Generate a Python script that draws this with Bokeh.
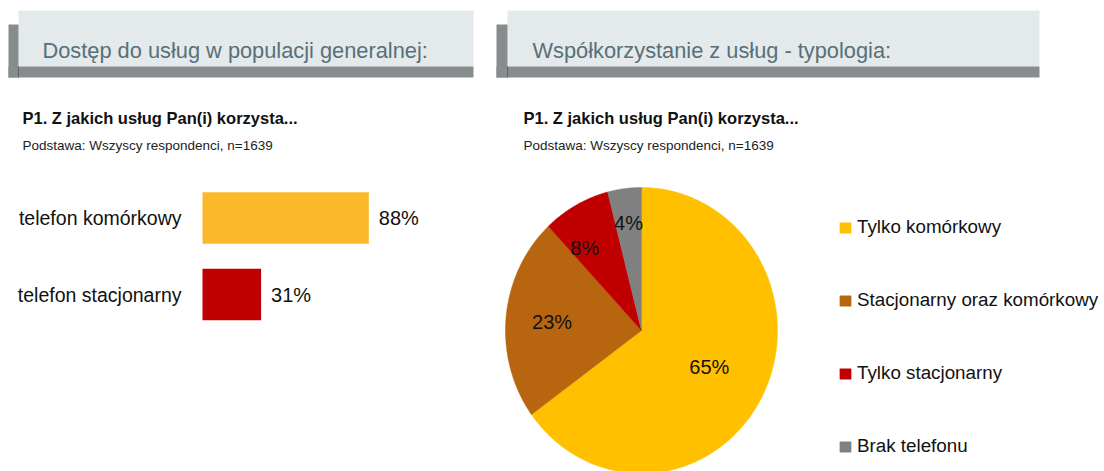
import numpy as np
from bokeh.plotting import figure
from bokeh.models import Range1d, ColumnDataSource, Legend, LegendItem
from bokeh.core.properties import value
from bokeh.embed import file_html
from bokeh.resources import INLINE

# ---------------- data ----------------
left_title = "Dostęp do usług w populacji generalnej:"
right_title = "Współkorzystanie z usług - typologia:"
question = "P1. Z jakich usług Pan(i) korzysta..."
base_note = "Podstawa: Wszyscy respondenci, n=1639"

bar_categories = ["telefon komórkowy", "telefon stacjonarny"]
bar_values = [88, 31]
bar_colors = ["#FBB829", "#C00000"]

pie_categories = ["Tylko komórkowy", "Stacjonarny oraz komórkowy",
                  "Tylko stacjonarny", "Brak telefonu"]
pie_values = [65, 23, 8, 4]
pie_colors = ["#FFC000", "#B8650F", "#C00000", "#808080"]

# ---------------- layout constants ----------------
FONT_NAME = "Liberation Sans"
FONT = value(FONT_NAME)
OFF = 0
W, H = 1104, 471

p = figure(width=W, height=H,
           x_range=Range1d(OFF, OFF + W), y_range=Range1d(OFF + H, OFF),
           x_axis_type=None, y_axis_type=None,
           output_backend="svg", toolbar_location=None, min_border=0)
p.outline_line_color = None
p.background_fill_color = "white"
p.border_fill_color = "white"

# bar chart scale: value 0 at px 202, 1.89 px per percent; rows at 217.5 + i*76.5
bx0, bpx = 202.0, 1.89
by0, bstep = 217.5, 76.5
# pie ellipse: centre (641, 330), rx 136, ry 143
pcx, pcy, prx, pry = 641.0, 330.0, 136.0, 143.0
p.extra_x_ranges = {
    "bx": Range1d((OFF - bx0) / bpx, (OFF + W - bx0) / bpx),
    "px": Range1d((OFF - pcx) / prx, (OFF + W - pcx) / prx),
}
p.extra_y_ranges = {
    "by": Range1d((OFF + H - by0) / bstep, (OFF - by0) / bstep),
    "py": Range1d((pcy - (OFF + H)) / pry, (pcy - OFF) / pry),
}

# ---------------- header bands ----------------
light = "#E4E9EB"
dark = "#878C8D"
p.quad(left=[18, 507], right=[473, 1039], top=[10, 10], bottom=[66, 66],
       fill_color=light, line_color=None)
p.quad(left=[8, 496], right=[473, 1039], top=[66, 66], bottom=[77, 77],
       fill_color=dark, line_color=None)
p.quad(left=[8, 496], right=[18, 507], top=[24, 24], bottom=[77, 77],
       fill_color=dark, line_color=None)
p.segment(x0=[18, 507], y0=[66, 66], x1=[18, 507], y1=[77, 77],
          line_color="#5F6364", line_width=1)

p.text(x=[42, 532], y=[49.5, 49.5], text=[left_title, right_title],
       text_font=FONT, text_font_size="21.8px", text_color="#587078",
       text_baseline="alphabetic")
p.text(x=[22, 523], y=[117, 117], text=[question, question],
       text_font=FONT, text_font_size="16.5px", text_font_style="bold",
       text_color="#111111", text_baseline="alphabetic")
p.text(x=[22, 523], y=[145, 145], text=[base_note, base_note],
       text_font=FONT, text_font_size="13.5px",
       text_color="#222222", text_baseline="alphabetic")

# ---------------- bar chart ----------------
bsrc = ColumnDataSource(dict(
    y=list(range(len(bar_values))),
    v=bar_values,
    c=bar_colors,
    cat=bar_categories,
    lab=[f"{v}%" for v in bar_values],
    zero=[0] * len(bar_values),
))
p.hbar(y="y", left="zero", right="v", height=0.673, fill_color="c",
       line_color=None, source=bsrc, x_range_name="bx", y_range_name="by")
p.text(x="v", y="y", text="lab", x_offset=10, source=bsrc,
       text_font=FONT, text_font_size="20px", text_color="#111111",
       text_baseline="middle", x_range_name="bx", y_range_name="by")
p.text(x="zero", y="y", text="cat", x_offset=-21, source=bsrc,
       text_font=FONT, text_font_size="19.5px", text_color="#111111",
       text_align="right", text_baseline="middle",
       x_range_name="bx", y_range_name="by")

# ---------------- pie chart ----------------
total = float(sum(pie_values))
cum = np.concatenate([[0.0], np.cumsum(pie_values) / total])
xs, ys, lx, ly = [], [], [], []
label_r = [0.56, 0.66, 0.71, 0.76]
label_shift = [0.0, 0.0, -0.02, 0.0]   # small angular nudge (fraction of turn)
for i in range(len(pie_values)):
    t = np.linspace(cum[i], cum[i + 1], 120) * 2 * np.pi  # clockwise from top
    xs.append(np.concatenate([[0.0], np.sin(t), [0.0]]).tolist())
    ys.append(np.concatenate([[0.0], np.cos(t), [0.0]]).tolist())
    m = ((cum[i] + cum[i + 1]) / 2 + label_shift[i]) * 2 * np.pi
    lx.append(label_r[i] * np.sin(m))
    ly.append(label_r[i] * np.cos(m))

psrc = ColumnDataSource(dict(xs=xs, ys=ys, c=pie_colors, cat=pie_categories))
pie = p.patches(xs="xs", ys="ys", fill_color="c", line_color="c",
                line_width=0.5, source=psrc,
                x_range_name="px", y_range_name="py")
p.text(x=lx, y=ly, text=[f"{v}%" for v in pie_values],
       text_font=FONT, text_font_size="20px", text_color="#111111",
       text_align="center", text_baseline="middle",
       x_range_name="px", y_range_name="py")

legend = Legend(
    items=[LegendItem(label=c, renderers=[pie], index=i)
           for i, c in enumerate(pie_categories)],
    location=(838, 13),
    orientation="vertical",
    glyph_width=14, glyph_height=13,
    label_height=24, label_standoff=5, spacing=49,
    padding=0, margin=0,
    label_text_font=FONT_NAME, label_text_font_size="18.8px",
    label_text_color="#111111",
    border_line_color=None, background_fill_alpha=0,
)
p.add_layout(legend)

open("out.html", "w").write(file_html(p, INLINE))
